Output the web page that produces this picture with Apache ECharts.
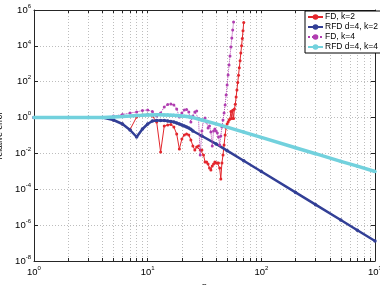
<!DOCTYPE html>
<html><head><meta charset="utf-8">
<script src="https://cdn.jsdelivr.net/npm/echarts@6/dist/echarts.min.js"></script>
<style>html,body{margin:0;padding:0;background:#fff}#c{width:380px;height:285px}</style>
</head><body><div id="c"></div>
<script>
// x ticks (log axis, n)
const xMajorTicks = [1, 10, 100, 1000];
const xAllTicks = [1,2,3,4,5,6,7,8,9,10,20,30,40,50,60,70,80,90,100,200,300,400,500,600,700,800,900,1000];
// y ticks (relative error)
const yTicks = [1e-8, 1e-6, 1e-4, 1e-2, 1, 1e2, 1e4, 1e6];

// FD, k=2 : n = 1..70
const fdK2 = [1,1,1,1,0.733,0.438,0.216,1.08,1.39,1.48,1.22,0.567,0.012,0.339,0.386,0.411,0.298,0.121,0.0177,0.0639,
  0.107,0.121,0.107,0.0562,0.026,0.0156,0.0229,0.026,0.0156,0.0156,0.00818,0.00333,0.00333,0.00258,0.00154,0.00119,0.002,0.00258,0.00333,0.00293,
  0.00293,0.00293,0.00154,0.000375,0.00293,0.00818,0.0296,0.107,0.262,0.438,0.567,0.733,0.834,2.2,0.9,2.6,0.9,3.0,5.5,14,
  35,90,230,600,1500,4000,10000,26000,70000,200000];
// FD, k=4 : n = 1..57
const fdK4 = [1,1,1,1,1.22,1.48,1.80,2.05,2.48,2.65,2.18,1.22,1.80,3.89,5.37,5.72,5.04,3.01,1.08,1.80,
  2.65,2.82,2.05,0.567,1.22,2.05,2.33,0.9,0.0082,0.178,0.733,0.946,0.567,0.262,0.339,0.157,0.026,0.178,0.231,0.178,
  0.138,0.0826,0.0296,0.094,0.298,0.733,1.80,5.04,18.2,65.6,237,856,2720,8640,27400,76700,214000];
// RFD d=4, k=2 : n = 1..25, then tail
const rfdK2Head = [1,1,1,1,0.733,0.438,0.203,0.0826,0.231,0.438,0.644,0.687,0.687,0.687,0.644,0.604,0.567,0.498,0.438,0.386,0.34,0.298,0.26,0.22,0.178];
const rfdK2TailN = [30,40,50,70,100,200,300,500,700,1000];
const rfdK2Tail = [0.094,0.034,0.0143,0.0039,0.00098,6.7e-5,1.39e-5,1.93e-6,5.2e-7,1.3e-7];
// RFD d=4, k=4 : n = 1..25, then tail
const rfdK4Head = [1,1,1,1,1.08,1.15,1.22,1.31,1.35,1.39,1.41,1.42,1.42,1.41,1.39,1.36,1.33,1.31,1.27,1.22,1.18,1.14,1.1,1.05,1.0];
const rfdK4TailN = [30,40,50,70,100,200,300,500,700,1000];
const rfdK4Tail = [0.733,0.445,0.291,0.155,0.078,0.0207,0.00966,0.00363,0.00195,0.00098];

const seriesNames = ['FD, k=2', 'RFD d=4, k=2', 'FD, k=4', 'RFD d=4, k=4'];
const colors = ['#e3262c', '#323f96', '#b03db0', '#72d1dd'];

function byIndex(arr) { return arr.map((v, i) => [i + 1, v]); }
function headTail(head, tn, tv) { return byIndex(head).concat(tn.map((n, i) => [n, tv[i]])); }

const FONT = 'Liberation Sans, Arial, sans-serif';
const rich = {
  b: { fontSize: 9.5, lineHeight: 14, fontFamily: FONT, color: '#000' },
  s: { fontSize: 6, lineHeight: 7, verticalAlign: 'top', fontFamily: FONT, color: '#000' }
};
function expFmt(v) { const e = Math.round(Math.log10(v)); return '{b|10}{s|' + e + '}'; }

const axisCol = '#262626';
const gridLine = { show: true, lineStyle: { type: [1, 2], color: '#bdbdbd', width: 1 } };

const chart = echarts.init(document.getElementById('c'), null, { renderer: 'canvas' });
chart.setOption({
  animation: false,
  backgroundColor: '#fff',
  grid: { left: 34, right: 5, top: 10, bottom: 24, containLabel: false, outerBoundsMode: 'none' },
  legend: {
    orient: 'vertical', left: 305, top: 11,
    data: seriesNames,
    itemWidth: 15, itemHeight: 7, itemGap: 0,
    padding: [1, 3, 1, 2],
    borderColor: '#000', borderWidth: 1, backgroundColor: '#fff',
    textStyle: { fontSize: 8.5, fontFamily: FONT, color: '#000', padding: [0, 0, 0, -3], lineHeight: 10 }
  },
  xAxis: [{
    type: 'log', logBase: 10, min: 1, max: 1000, position: 'bottom',
    axisLine: { lineStyle: { color: axisCol, width: 1 } },
    axisTick: { inside: true, length: 3, customValues: xAllTicks, lineStyle: { color: axisCol } },
    axisLabel: { customValues: xMajorTicks, formatter: expFmt, rich: rich, margin: 4, hideOverlap: false },
    splitLine: gridLine,
    name: 'n', nameLocation: 'middle', nameGap: 19,
    nameTextStyle: { fontSize: 9, fontFamily: FONT, color: '#000' }
  }, {
    type: 'log', logBase: 10, min: 1, max: 1000, position: 'top',
    axisLine: { lineStyle: { color: axisCol, width: 1 } },
    axisTick: { inside: true, length: 3, customValues: xAllTicks, lineStyle: { color: axisCol } },
    axisLabel: { show: false }, splitLine: { show: false }
  }],
  yAxis: [{
    type: 'log', logBase: 10, min: 1e-8, max: 1e6, position: 'left',
    axisLine: { lineStyle: { color: axisCol, width: 1 } },
    axisTick: { inside: true, length: 4, customValues: yTicks, lineStyle: { color: axisCol } },
    axisLabel: { customValues: yTicks, formatter: expFmt, rich: rich, margin: 3 },
    splitLine: gridLine,
    name: 'relative error', nameLocation: 'middle', nameGap: 21,
    nameTextStyle: { fontSize: 8.5, fontFamily: FONT, color: '#000' }
  }, {
    type: 'log', logBase: 10, min: 1e-8, max: 1e6, position: 'right',
    axisLine: { lineStyle: { color: axisCol, width: 1 } },
    axisTick: { inside: true, length: 4, customValues: yTicks, lineStyle: { color: axisCol } },
    axisLabel: { show: false }, splitLine: { show: false }
  }],
  series: [
    { name: seriesNames[0], type: 'line', data: byIndex(fdK2), color: colors[0],
      symbol: 'circle', symbolSize: 3, lineStyle: { width: 1 }, z: 3 },
    { name: seriesNames[1], type: 'line', data: headTail(rfdK2Head, rfdK2TailN, rfdK2Tail), color: colors[1],
      symbol: 'circle', symbolSize: 3.5, lineStyle: { width: 2.5 }, z: 4 },
    { name: seriesNames[2], type: 'line', data: byIndex(fdK4), color: colors[2],
      symbol: 'circle', symbolSize: 3, lineStyle: { width: 1, type: 'dotted' }, z: 5 },
    { name: seriesNames[3], type: 'line', data: headTail(rfdK4Head, rfdK4TailN, rfdK4Tail), color: colors[3],
      symbol: 'circle', symbolSize: 3.5, lineStyle: { width: 3.5 }, z: 6 }
  ]
});
</script></body></html>
